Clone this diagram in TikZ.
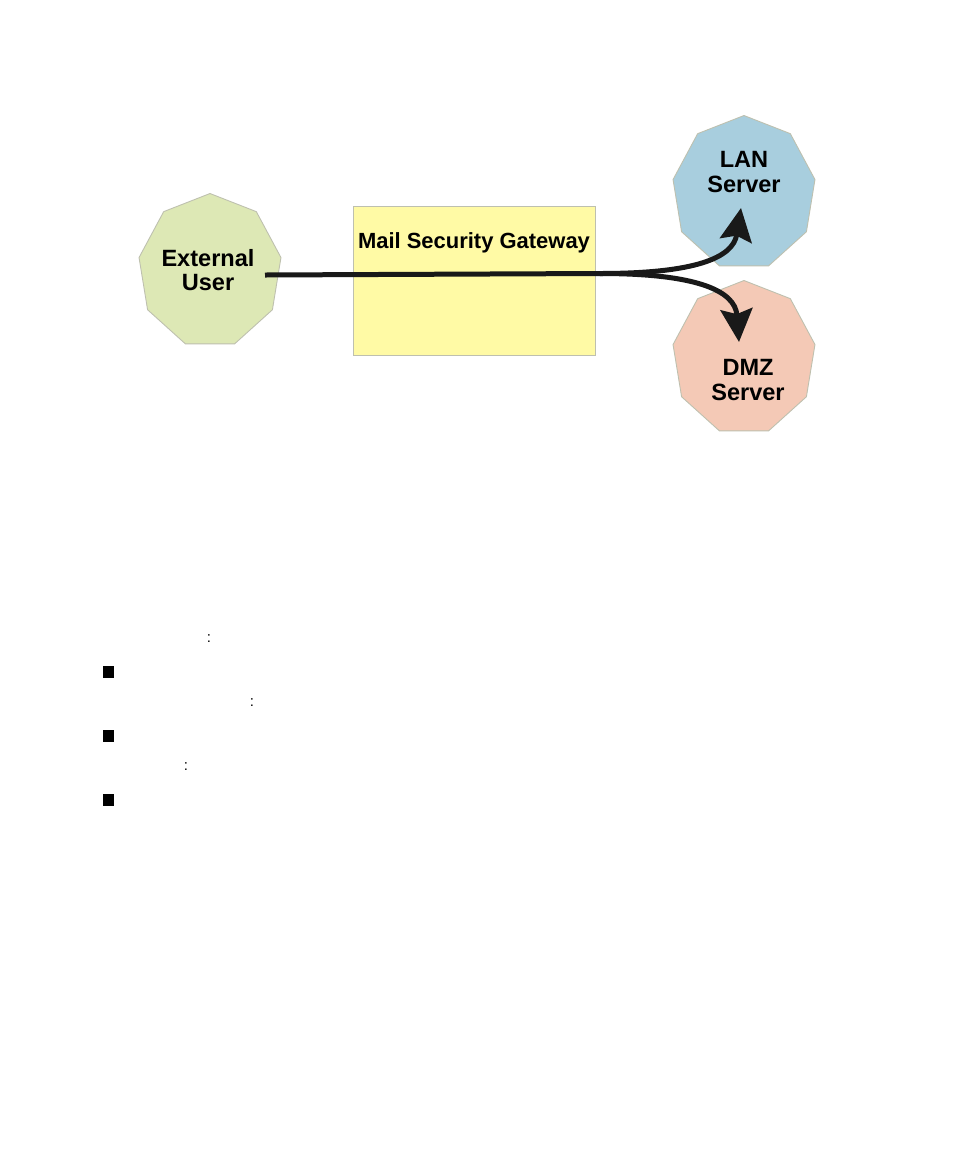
\documentclass[tikz,border=0pt]{standalone}
\usepackage{fontspec}
\setmainfont{Liberation Sans}
\usetikzlibrary{shapes.geometric,arrows.meta,calc}
\tikzset{>={Stealth[length=0.66cm,width=0.64cm,inset=0.1cm]}}

\definecolor{usergreen}{RGB}{221,232,181}
\definecolor{lanblue}{RGB}{168,206,222}
\definecolor{dmzpink}{RGB}{244,201,182}
\definecolor{gateyellow}{RGB}{255,250,165}
\definecolor{edgegray}{RGB}{190,192,175}

\tikzset{
  site/.style={regular polygon,regular polygon sides=9,minimum size=3.1cm,
    inner sep=0pt,draw=edgegray,line width=0.5pt,xscale=0.93,transform shape},
  sitetext/.style={font=\bfseries\fontsize{13.4}{13.7}\selectfont,align=center,inner sep=0pt},
  gatebox/.style={draw=edgegray,fill=gateyellow,minimum width=4.84cm,minimum height=2.98cm,inner sep=0pt},
  flow/.style={line width=0.1cm,draw=black!90},
  bulletbox/.style={fill=black,minimum size=0.24cm,inner sep=0pt},
  colonmark/.style={font=\fontsize{8.5}{10}\selectfont,inner sep=0pt}
}

\begin{document}
\begin{tikzpicture}[x=0.02cm,y=-0.02cm]
    \useasboundingbox[fill=white] (0,0) rectangle (954,1157);

    % the three sites and the gateway
    \path (210,271) node[site,fill=usergreen] (user) {};
    \path (744,193) node[site,fill=lanblue] (lan) {};
    \path (744,358) node[site,fill=dmzpink] (dmz) {};
    \node[gatebox] (gateway) at (474,280.5) {};

    \node[sitetext] (usertext) at (208,270) {External\\User};
    \node[sitetext] (lantext) at (744,172) {LAN\\Server};
    \node[sitetext] (dmztext) at (748,380) {DMZ\\Server};
    \node[font=\bfseries\fontsize{12.5}{13}\selectfont,inner sep=0pt] (gatetext) at (474,243) {Mail Security Gateway};

    % mail flow
    \coordinate (start) at ($(user.center)+(55,4)$);
    \coordinate (split) at (600,273.5);
    \coordinate (lanin) at ($(lan.center)+(-3,15)$);
    \coordinate (dmzin) at ($(dmz.center)+(-5,-16)$);
    \draw[flow] (start) -- (split);
    \draw[flow,->] (split) .. controls (695,273.5) and (733,258) .. (lanin);
    \draw[flow,->] (split) .. controls (695,273.5) and (735,290) .. (dmzin);

    % list below
    \node[colonmark] (colon1) at (209,639) {:};
    \node[bulletbox] (item1) at (108.5,672) {};
    \node[colonmark] (colon2) at (252,703) {:};
    \node[bulletbox] (item2) at (108.5,736) {};
    \node[colonmark] (colon3) at (186,767) {:};
    \node[bulletbox] (item3) at (108.5,800) {};
\end{tikzpicture}
\end{document}
